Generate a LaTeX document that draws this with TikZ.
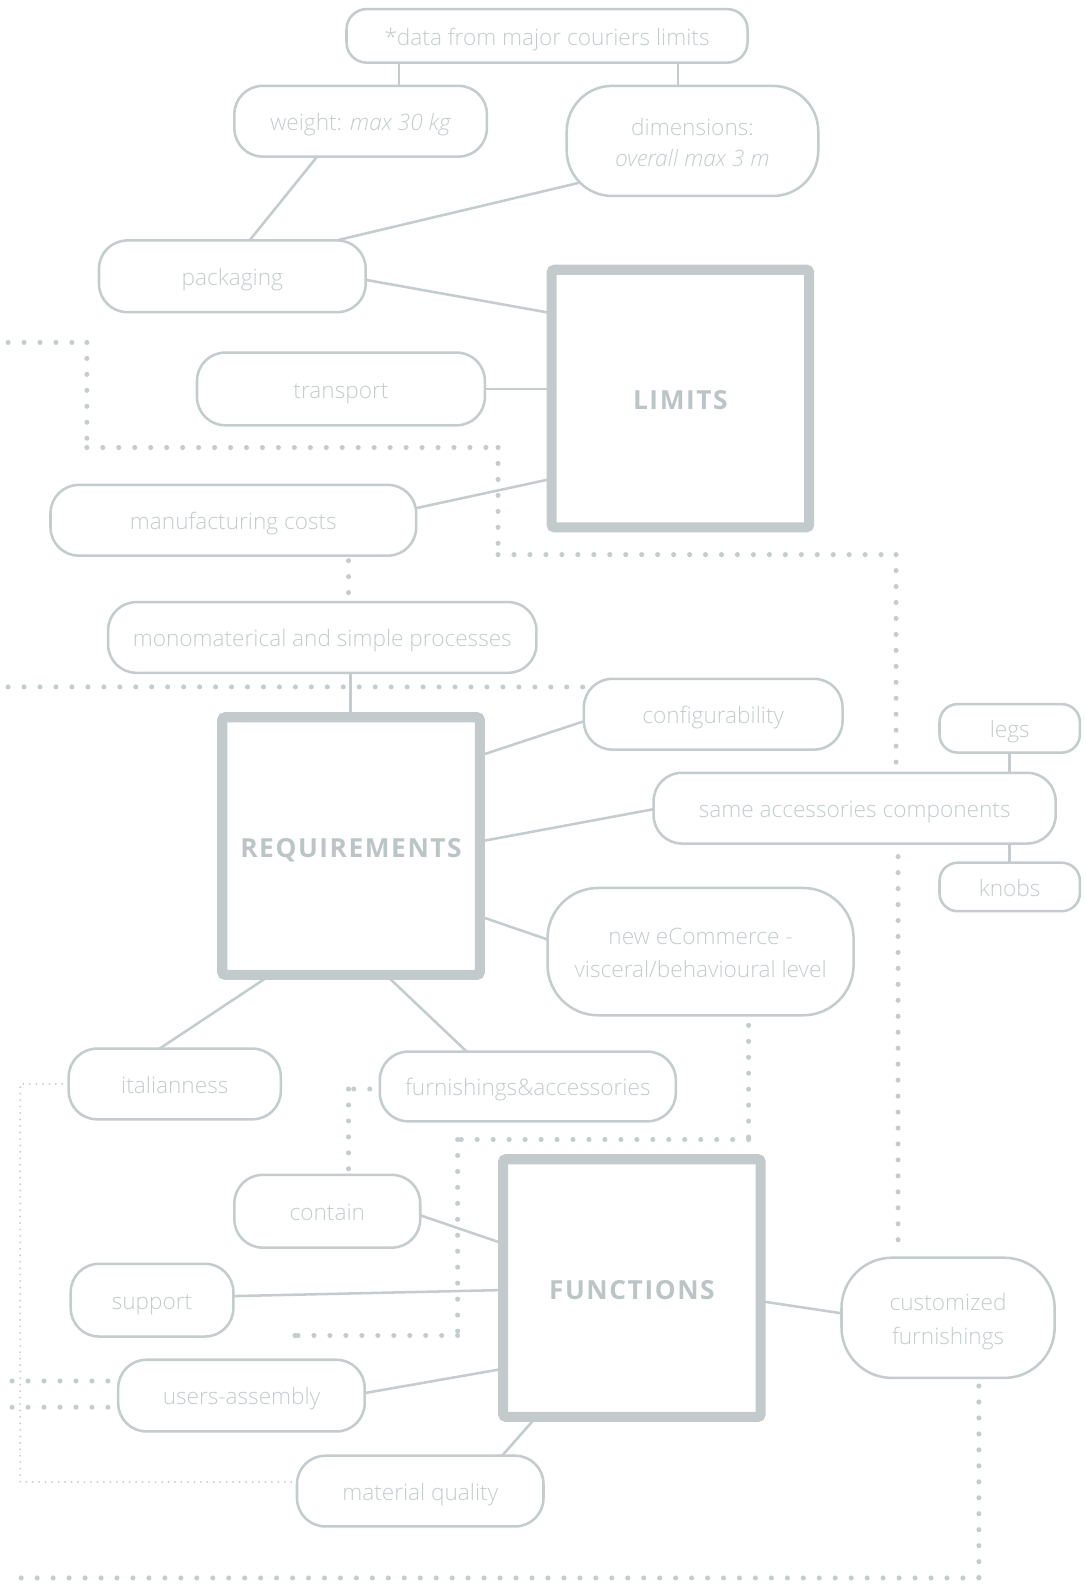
\documentclass[tikz,border=0pt]{standalone}
\usepackage{fontspec}
\setmainfont{Open Sans}[UprightFont={* Light}, ItalicFont={* Light Italic}, BoldFont={* Bold}]
\usetikzlibrary{calc}
\pgfdeclarelayer{background}
\pgfdeclarelayer{paper}
\pgfsetlayers{paper,background,main}

\definecolor{edge}{HTML}{C4CCCD}
\definecolor{ink}{HTML}{C4CCCD}
\definecolor{heavy}{HTML}{C2CACB}
\definecolor{heavyink}{HTML}{BCC5C6}

\tikzset{
  pill/.style={draw=edge, line width=1.25pt, fill=white, rounded corners=14pt,
    text=ink, font=\fontsize{11.2}{16.5}\selectfont, align=center,
    inner sep=0pt, outer sep=0pt},
  oneline/.style={text height=11.8pt, text depth=2.6pt},
  core/.style={draw=heavy, line width=5pt, fill=white, rounded corners=1.5pt,
    text=heavyink, font=\fontsize{13}{16}\selectfont\bfseries\addfontfeature{LetterSpace=6},
    inner sep=0pt, outer sep=0pt, minimum width=127.5pt, minimum height=127.5pt,
    text height=11.3pt, text depth=0pt},
  link/.style={draw=edge, line width=1.25pt},
  dots/.style={draw=edge, line width=2.5pt, line cap=round, dash pattern=on 0pt off 7.9pt},
  finedots/.style={draw=edge, line width=1pt, line cap=round, dash pattern=on 0pt off 3.2pt},
}

\begin{document}
\begin{tikzpicture}[x=0.5pt, y=-0.5pt]
\begin{pgfonlayer}{paper}
\useasboundingbox[fill=white] (0,0) rectangle (1075,1568);
\end{pgfonlayer}

% ---- limits cluster
\node[pill, oneline, rounded corners=10pt, minimum width=198.5pt, minimum height=26.5pt] (data) at (541.5,35.5) {*data from major couriers limits};
\node[pill, oneline, minimum width=125pt, minimum height=35pt] (weight) at (357,120) {weight: \textit{max 30 kg}};
\node[pill, rounded corners=22.5pt, minimum width=124.5pt, minimum height=54.5pt, font=\fontsize{11.2}{15.5}\selectfont] (dims) at (685.5,139.5) {\rule{0pt}{9.8pt}dimensions:\\\textit{overall max 3 m}};
\node[pill, oneline, minimum width=132pt, minimum height=35.5pt] (pack) at (230,273.5) {packaging};
\node[core] (lim) at (673.5,394.5) {LIMITS};
\node[pill, oneline, minimum width=142.5pt, minimum height=36pt] (trans) at (337.5,385) {transport};
\node[pill, oneline, minimum width=181pt, minimum height=35pt] (manu) at (231,515) {manufacturing costs};
\node[pill, oneline, minimum width=212pt, minimum height=35pt] (mono) at (319,631) {monomaterical and simple processes};

% ---- requirements cluster
\node[core] (req) at (347.5,837.5) {REQUIREMENTS};
\node[pill, oneline, minimum width=128pt, minimum height=35pt] (conf) at (706,707) {configurability};
\node[pill, oneline, rounded corners=9pt, minimum width=69.5pt, minimum height=24pt] (legs) at (999.5,721) {legs};
\node[pill, oneline, minimum width=199pt, minimum height=35pt] (same) at (846,800) {same accessories components};
\node[pill, oneline, rounded corners=9pt, minimum width=69.5pt, minimum height=24pt] (knobs) at (999.5,878) {knobs};
\node[pill, rounded corners=25pt, minimum width=151.5pt, minimum height=63pt] (ecom) at (693.5,942) {\rule{0pt}{9.3pt}new eCommerce -\\visceral/behavioural level};
\node[pill, oneline, minimum width=105pt, minimum height=35pt] (ital) at (173,1073) {italianness};
\node[pill, oneline, minimum width=146.5pt, minimum height=34.5pt] (furn) at (522.5,1075.5) {furnishings\&accessories};

% ---- functions cluster
\node[core] (func) at (625.5,1275) {FUNCTIONS};
\node[pill, oneline, minimum width=92pt, minimum height=36pt] (cont) at (324,1199) {contain};
\node[pill, oneline, minimum width=80.5pt, minimum height=36pt] (supp) at (150.5,1287) {support};
\node[pill, oneline, minimum width=122pt, minimum height=35.5pt] (users) at (239,1381.5) {users-assembly};
\node[pill, oneline, minimum width=122pt, minimum height=35pt] (mat) at (416,1476) {material quality};
\node[pill, rounded corners=25pt, minimum width=105.5pt, minimum height=59.5pt] (cust) at (938.5,1304.5) {\rule{0pt}{12.3pt}customized\\furnishings};

\begin{pgfonlayer}{background}
% solid connectors
\draw[link] ($(data.south)+(-146.5,0)$) -- ($(weight.north)+(38,0)$);
\draw[link] ($(data.south)+(129.5,0)$) -- ($(dims.north)+(-14.5,0)$);
\draw[link] ($(weight.south)+(-43,0)$) -- ($(pack.north)+(17,0)$);
\draw[link] ($(dims.south west)+(12,-13)$) -- ($(pack.north)+(103,0)$);
\draw[link] ($(pack.east)+(0,3.5)$) -- ($(lim.west)+(0,-84.5)$);
\draw[link] (trans.east) -- ($(lim.west)+(0,-9.5)$);
\draw[link] ($(manu.east)+(0,-12)$) -- ($(lim.west)+(0,79.5)$);
\draw[link] ($(mono.south)+(28,0)$) -- ($(req.north)+(-0.5,0)$);
\draw[link] ($(req.east)+(0,-89.5)$) -- ($(conf.west)+(0,7)$);
\draw[link] ($(req.east)+(0,-4.5)$) -- ($(same.west)+(0,1)$);
\draw[link] ($(req.east)+(0,69.5)$) -- ($(ecom.west)+(0,-12)$);
\draw[link] (legs.south) -- ($(same.north)+(153.5,0)$);
\draw[link] ($(same.south)+(153.5,0)$) -- (knobs.north);
\draw[link] ($(req.south)+(-79.5,0)$) -- ($(ital.north)+(-15,0)$);
\draw[link] ($(req.south)+(34.5,0)$) -- ($(furn.north)+(-60.5,0)$);
\draw[link] ($(cont.east)+(0,4)$) -- ($(func.west)+(0,-44)$);
\draw[link] ($(supp.east)+(0,-4)$) -- ($(func.west)+(0,2)$);
\draw[link] ($(users.east)+(0,-2.5)$) -- ($(func.west)+(0,80)$);
\draw[link] ($(func.south)+(-94.5,0)$) -- ($(mat.north)+(81,0)$);
\draw[link] ($(func.east)+(0,13)$) -- ($(cust.west)+(0,-4.5)$);

% dotted routes
\coordinate (a0) at (8,339);
\coordinate (a1) at (86,339);
\coordinate (a2) at (86,443);
\coordinate (a3) at (493,443);
\coordinate (a4) at (493,549);
\coordinate (a5) at (887,549);
\draw[dots] (a0) -- (a1);
\draw[dots] (a1) -- (a2);
\draw[dots] (a2) -- (a3);
\draw[dots] (a3) -- (a4);
\draw[dots] (a4) -- (a5);
\draw[dots] (a5) -- ($(same.north)+(41,-10)$);

\coordinate (b0) at (8,680);
\draw[dots] (b0) -- ($(conf.north west)+(0,8)$);

\draw[dots] ($(manu.south)+(114,5)$) -- ($(mono.north)+(26,-4)$);

\draw[dots] ($(same.south)+(43,13)$) -- ($(cust.north)+(-49.5,-5)$);

\coordinate (e0) at ($(ecom.south)+(47.5,10)$);
\coordinate (e1) at (741,1128);
\coordinate (e2) at (453,1128);
\coordinate (e3) at (453,1322);
\coordinate (e4) at (292,1322);
\draw[dots] (e0) -- (e1);
\draw[dots] (e1) -- (e2);
\draw[dots] (e2) -- (e3);
\draw[dots] (e3) -- (e4);
\draw[dots] (e4) -- ($(users.north)+(53,-11)$);

\coordinate (f0) at ($(furn.west)+(-10,2.5)$);
\coordinate (f1) at (345,1078);
\draw[dots] (f0) -- (f1);
\draw[dots] (f1) -- ($(cont.north)+(21,-3)$);

\coordinate (g0) at ($(cust.south)+(30.5,8)$);
\coordinate (g1) at (969,1562);
\coordinate (g2) at (8,1562);
\draw[dots] (g0) -- (g1);
\draw[dots] (g1) -- (g2);

\coordinate (h0) at (12,1367);
\coordinate (h1) at (12,1393);
\draw[dots] (h0) -- ($(users.west)+(-5,-14.5)$);
\draw[dots] (h1) -- ($(users.west)+(-5,11.5)$);

\coordinate (i1) at (20,1073);
\coordinate (i2) at (20,1467);
\draw[finedots] (ital.west) -- (i1) -- (i2) -- ($(mat.west)+(0,-9)$);
\end{pgfonlayer}
\end{tikzpicture}
\end{document}
